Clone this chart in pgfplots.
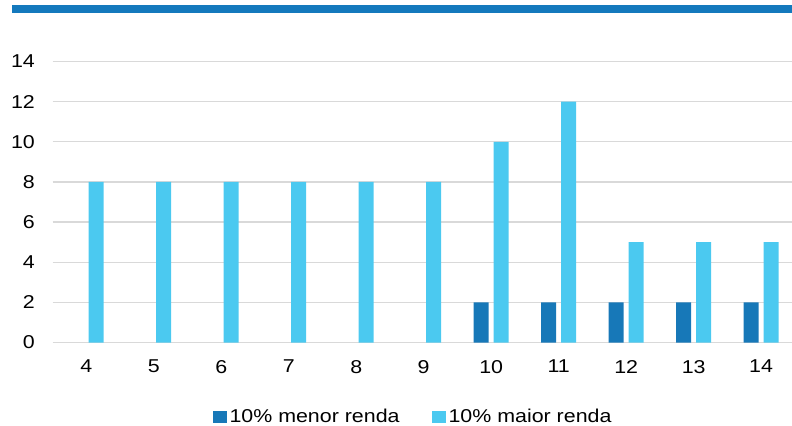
\documentclass[border=0pt]{standalone}
\usepackage{fontspec}
\setmainfont{Liberation Sans}[FakeStretch=1.15]
\usepackage{pgfplots}
\pgfplotsset{compat=1.18}
\definecolor{darkb}{HTML}{1778B8}
\definecolor{lightb}{HTML}{4BC9F0}
\definecolor{topb}{HTML}{1479BD}
\definecolor{gridc}{HTML}{D9D9D9}
\newcommand{\lfont}{\fontsize{18.6bp}{22bp}\selectfont}
\begin{document}
\begin{tikzpicture}
\useasboundingbox (0bp,0bp) rectangle (792bp,426bp);
\fill[topb] (12bp,413bp) rectangle (792bp,421bp);
\begin{axis}[
  at={(52.5bp,83.5bp)}, anchor=south west,
  scale only axis, width=739bp, height=281bp,
  xmin=3.5, xmax=14.45, ymin=0, ymax=14,
  xtick={4,...,14}, ytick={0,2,...,14},
  axis line style={draw=none},
  major tick length=0pt,
  ymajorgrids, xmajorgrids=false,
  major grid style={gridc, line width=1.3bp},
  /pgf/number format/assume math mode=true,
  ticklabel style={font=\lfont, inner sep=0pt},
  yticklabel style={anchor=east, xshift=-17.5bp},
  xticklabel style={anchor=north, yshift=-17.5bp},
  ybar, bar width=15bp,
  legend columns=2,
  legend style={at={(0.4865,-0.265)}, anchor=center, draw=none, fill=none,
    font=\lfont, nodes={inner sep=0pt},
    /tikz/every odd column/.append style={column sep=3bp},
    /tikz/every even column/.append style={column sep=32bp}},
  legend image code/.code={\fill[#1] (0bp,-6bp) rectangle (14bp,6bp);},
]
\addplot[fill=darkb, draw=none, bar shift=-10bp] coordinates {(10,2) (11,2) (12,2) (13,2) (14,2)};
\addlegendentry{10\% menor renda}
\addplot[fill=lightb, draw=none, bar shift=10bp] coordinates {(4,8) (5,8) (6,8) (7,8) (8,8) (9,8) (10,10) (11,12) (12,5) (13,5) (14,5)};
\addlegendentry{10\% maior renda}
\end{axis}
\end{tikzpicture}
\end{document}
